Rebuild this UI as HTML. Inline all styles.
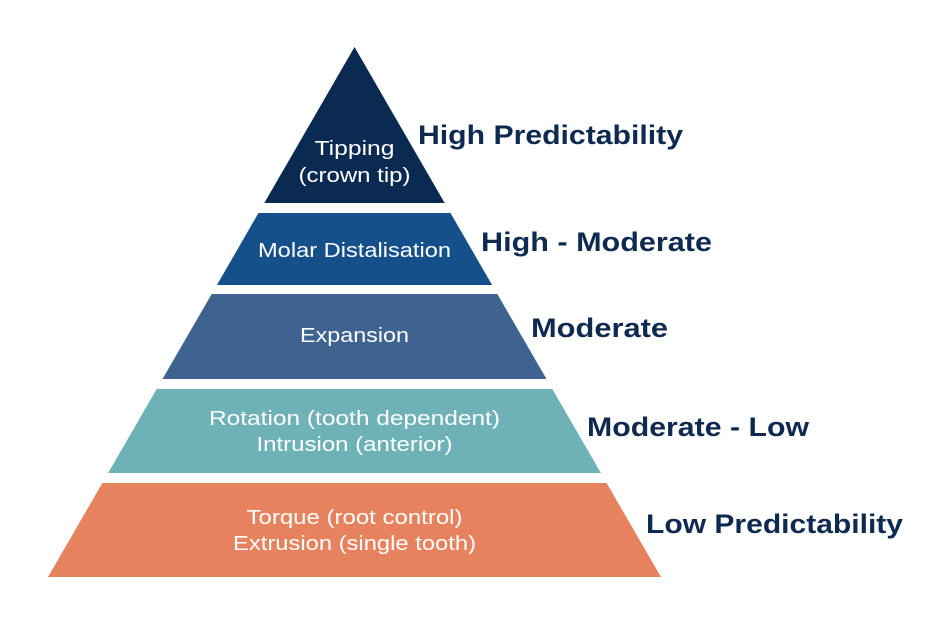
<!DOCTYPE html>
<html><head><style>html,body{margin:0;padding:0;background:#fff;}svg{display:block}</style></head>
<body>
<svg width="947" height="624" viewBox="0 0 947 624" xmlns="http://www.w3.org/2000/svg" font-family="Liberation Sans, sans-serif">
<polygon points="354.5,47 264.3,203 444.7,203" fill="#0b2a52"/>
<polygon points="258.5,213 450.5,213 492.1,285 216.9,285" fill="#15508b"/>
<polygon points="211.7,294 497.3,294 546.5,379 162.5,379" fill="#3e6391"/>
<polygon points="156.7,389 552.3,389 600.9,473 108.1,473" fill="#6eb2b8"/>
<polygon points="102.4,483 606.6,483 661,577 48,577" fill="#e6835e"/>
<g fill="#fff" font-size="20" text-anchor="middle">
<text x="354.5" y="155" textLength="80" lengthAdjust="spacingAndGlyphs">Tipping</text>
<text x="354.5" y="182" textLength="112" lengthAdjust="spacingAndGlyphs">(crown tip)</text>
<text x="354.5" y="257" textLength="193" lengthAdjust="spacingAndGlyphs">Molar Distalisation</text>
<text x="354.5" y="342" textLength="109" lengthAdjust="spacingAndGlyphs">Expansion</text>
<text x="354.5" y="425" textLength="291" lengthAdjust="spacingAndGlyphs">Rotation (tooth dependent)</text>
<text x="354.5" y="451" textLength="196" lengthAdjust="spacingAndGlyphs">Intrusion (anterior)</text>
<text x="354.5" y="524" textLength="216" lengthAdjust="spacingAndGlyphs">Torque (root control)</text>
<text x="354.5" y="550" textLength="243" lengthAdjust="spacingAndGlyphs">Extrusion (single tooth)</text>
</g>
<g fill="#0f2a50" font-size="27" font-weight="bold">
<text x="418" y="144" textLength="265" lengthAdjust="spacingAndGlyphs">High Predictability</text>
<text x="481" y="251" textLength="231" lengthAdjust="spacingAndGlyphs">High - Moderate</text>
<text x="531" y="337" textLength="137" lengthAdjust="spacingAndGlyphs">Moderate</text>
<text x="587" y="436" textLength="222" lengthAdjust="spacingAndGlyphs">Moderate - Low</text>
<text x="646" y="533" textLength="257" lengthAdjust="spacingAndGlyphs">Low Predictability</text>
</g>
</svg>
</body></html>
